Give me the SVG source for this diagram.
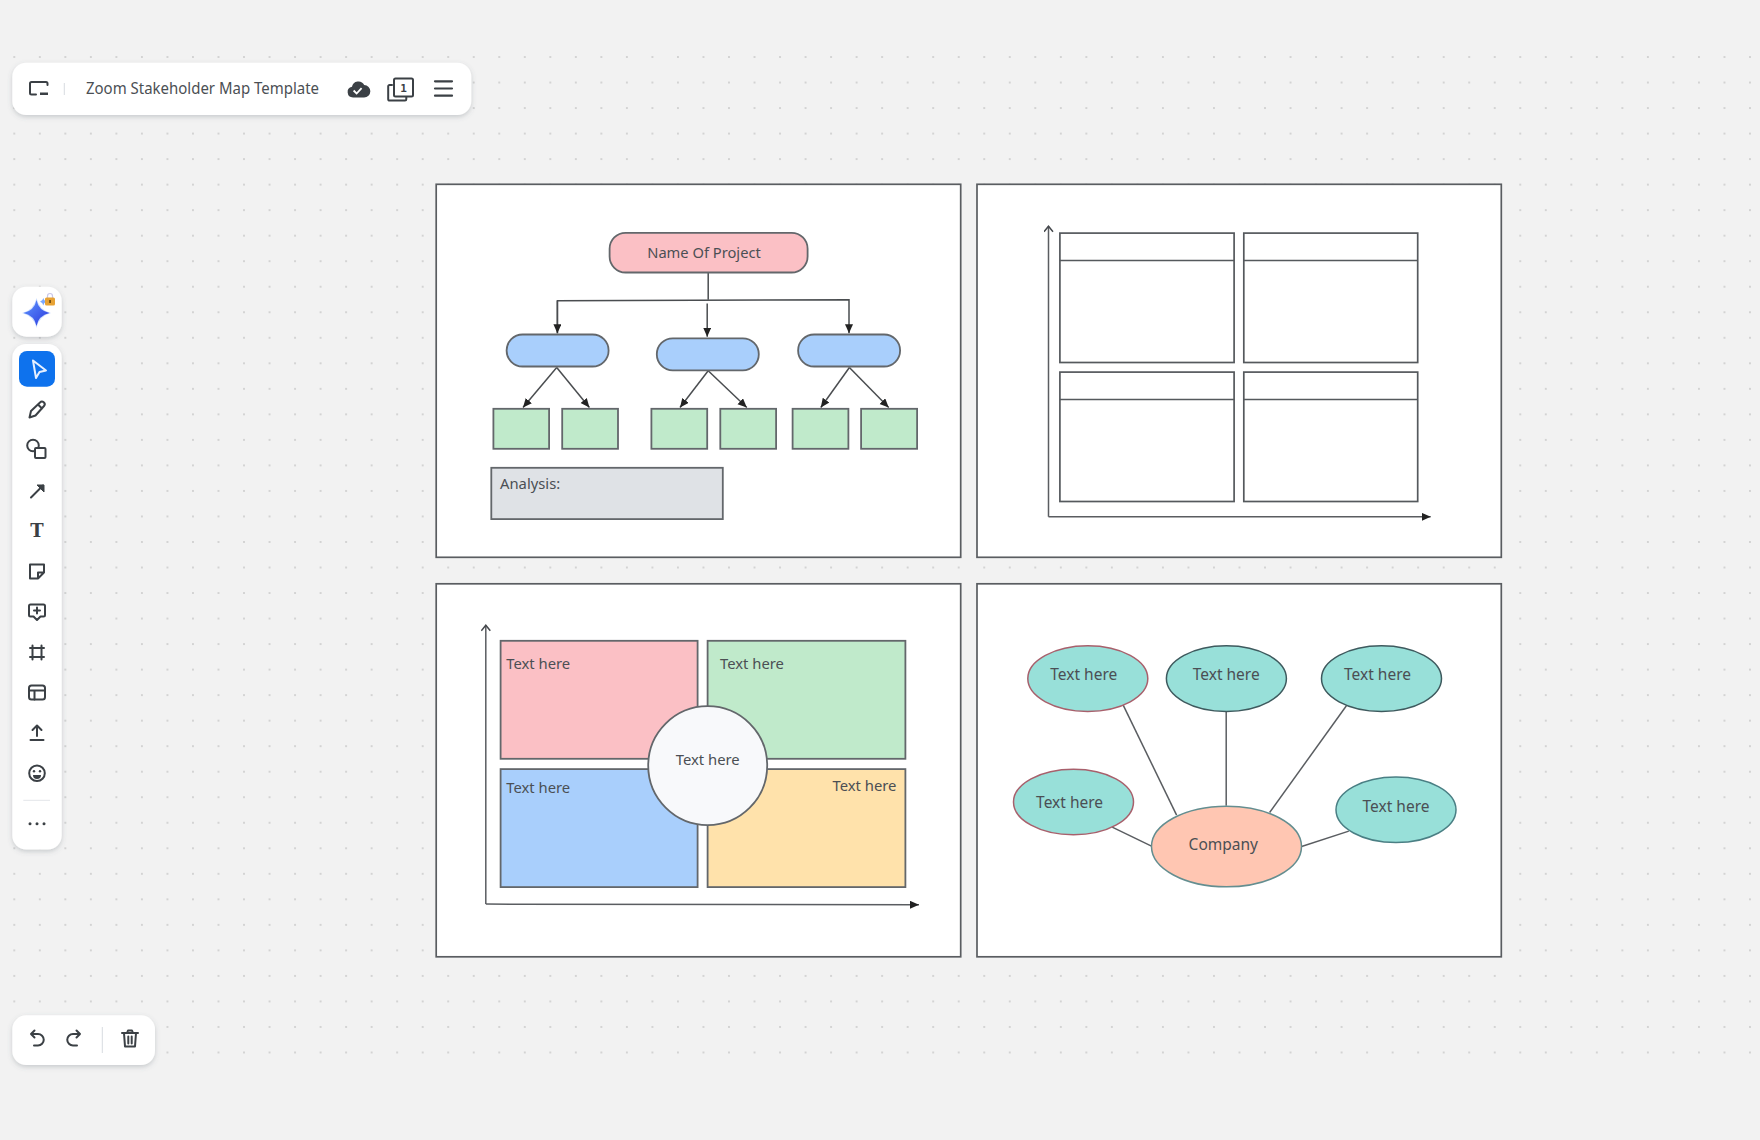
<svg xmlns="http://www.w3.org/2000/svg" width="1760" height="1140" viewBox="0 0 1760 1140">
<style>
.t{font-family:"Noto Sans","Open Sans","Liberation Sans",sans-serif;font-size:15px;fill:#4b4f54}
.tl{font-family:"Noto Sans","Open Sans","Liberation Sans",sans-serif;font-size:15.5px;fill:#4b4f54}
.panel{fill:#fff;stroke:#5a5d61;stroke-width:1.7}
.box{stroke:#63676b;stroke-width:1.8}
.wire{fill:none;stroke:#4a4d50;stroke-width:1.5}
.link{fill:none;stroke:#5a5d61;stroke-width:1.5}
.grid{fill:#fff;stroke:#55595d;stroke-width:1.7}
.bar{fill:#fff;filter:url(#sh)}
.ic{fill:none;stroke:#3b4045;stroke-width:2;stroke-linecap:round;stroke-linejoin:round}
.teal{fill:#98e0d9}
</style>
<defs>
<pattern id="dots" patternUnits="userSpaceOnUse" x="1.54" y="44.24" width="25.525" height="25.525"><circle cx="12.76" cy="12.76" r="1.1" fill="#cdcdcd"/></pattern>
<filter id="sh" x="-20%" y="-20%" width="140%" height="150%"><feDropShadow dx="0" dy="2" stdDeviation="2.5" flood-color="#5a6270" flood-opacity="0.28"/></filter>
<marker id="fa" markerUnits="userSpaceOnUse" markerWidth="12" markerHeight="10" refX="9" refY="4" orient="auto"><path d="M0 0L9 4L0 8Z" fill="#222"/></marker>
<marker id="oa" markerUnits="userSpaceOnUse" markerWidth="12" markerHeight="12" refX="6.5" refY="5" orient="auto"><path d="M1 0.5L6.5 5L1 9.5" fill="none" stroke="#45484c" stroke-width="1.5"/></marker>
<linearGradient id="star" x1="0" y1="0" x2="1" y2="1"><stop offset="0" stop-color="#5f98ff"/><stop offset="1" stop-color="#2a35dc"/></linearGradient>
</defs>
<rect width="1760" height="1140" fill="#f2f2f2"/>
<rect x="0" y="44" width="1760" height="1022" fill="url(#dots)"/>

<g id="top-bar">
<rect class="bar" x="12.300" y="62.700" width="459" height="52.300" rx="14"/>
<path class="ic" d="M47.500 85V83.500a1.500 1.500 0 0 0-1.500-1.500H31.500A1.500 1.500 0 0 0 30 83.500V93a1.500 1.500 0 0 0 1.500 1.500H36"/>
<path d="M40 92.500H48V95H40Z" fill="#3b4045"/>
<path d="M64.300 83V95" stroke="#d8dbe0" stroke-width="1"/>
<text x="86" y="94.300" class="t" style="font-size:15.600px" textLength="233" lengthAdjust="spacingAndGlyphs">Zoom Stakeholder Map Template</text>
<path d="M353 97.500a5.400 5.400 0 0 1-1-10.700 6.500 6.500 0 0 1 12.200-1.800 6.200 6.200 0 0 1-.2 12.500Z" fill="#3b4045"/>
<path d="M353.600 90.500l3 3 5-5.300" fill="none" stroke="#fff" stroke-width="1.800"/>
<rect x="394" y="78.500" width="19" height="18" rx="1.500" class="ic"/>
<path class="ic" d="M392 85H389.500a1.300 1.300 0 0 0-1.300 1.300v13a1.300 1.300 0 0 0 1.300 1.300H405a1.300 1.300 0 0 0 1.300-1.300V97"/>
<text x="403.500" y="92" text-anchor="middle" style="font-family:'DejaVu Sans Mono','Liberation Mono',monospace;font-size:11px;font-weight:700;fill:#3b4045">1</text>
<path class="ic" style="stroke-width:2.200" d="M435 81.300H452M435 88.500H452M435 95.700H452"/>
</g>

<g id="ai-button">
<rect class="bar" x="12.300" y="286.700" width="49.400" height="50" rx="14"/>
<path d="M36.500 298Q39 310 51 313Q39 316 36.500 328Q34 316 22 313Q34 310 36.500 298Z" fill="#a9c6ff" opacity="0.6"/>
<path d="M36.500 300Q38.500 310.500 49.500 313Q38.500 315.500 36.500 326Q34.500 315.500 23.500 313Q34.500 310.500 36.500 300Z" fill="url(#star)"/>
<path d="M43.300 298Q43.800 301 46.500 301.700Q43.800 302.500 43.300 305.500Q42.800 302.500 40 301.700Q42.800 301 43.300 298Z" fill="#7aa8ff"/>
<path d="M47.500 298V296a2.500 2.500 0 0 1 5 0v2" fill="none" stroke="#c9c6e8" stroke-width="1.200"/>
<rect x="45" y="297.500" width="10" height="8" rx="1.500" fill="#e7a234"/>
<rect x="49.300" y="300" width="1.500" height="3" fill="#5b3c0c"/>
</g>

<g id="tool-bar">
<rect class="bar" x="12.300" y="344" width="49.400" height="505.500" rx="14"/>
<rect x="19" y="351" width="36" height="35.700" rx="8" fill="#0e72ed"/>
<path d="M33 360.500L46 370.500L39.500 372L36 378Z" fill="none" stroke="#e6f0ff" stroke-width="2" stroke-linejoin="round"/>
<g transform="translate(0,1)">
<path class="ic" transform="translate(0,1)" d="M29.500 415.500L31 409L40 400.500a2.500 2.500 0 0 1 4 3.500L35.500 413.500ZM38 402.500L42 406.500"/>
<circle class="ic" cx="33" cy="444.500" r="5.800"/>
<rect x="35" y="447" width="10.500" height="10" rx="1" fill="#fff" stroke="#3b4045" stroke-width="2"/>
<path class="ic" d="M31 496.500L43 484.500"/>
<path d="M37 484H44V491Z" fill="#3b4045" stroke="#3b4045" stroke-width="1" stroke-linejoin="round"/>
<text x="37" y="535.500" text-anchor="middle" style="font-family:'DejaVu Serif','Liberation Serif',serif;font-size:18px;font-weight:700;fill:#3b4045">T</text>
<path class="ic" d="M30 563.500H44V571.500L38 577.500H30ZM44 571.500H38V577.500"/>
<path class="ic" d="M30.500 603.500H43.500a1.500 1.500 0 0 1 1.500 1.500V614a1.500 1.500 0 0 1-1.500 1.500H40.500L37 619L33.500 615.500H30.500a1.500 1.500 0 0 1-1.500-1.500V605a1.500 1.500 0 0 1 1.500-1.500ZM37 606.500V612.500M34 609.500H40"/>
<path class="ic" d="M32.500 644.500V658.500M41.500 644.500V658.500M30 647H44M30 656H44"/>
<rect class="ic" x="29" y="684.500" width="16" height="14" rx="2.500"/>
<path class="ic" d="M29 689.500H45M34.500 689.500V698.500"/>
<path class="ic" d="M30.500 739H43.500M37 735V725M32.500 729L37 724.500L41.500 729"/>
<circle class="ic" cx="37" cy="772.300" r="7.800"/>
<circle cx="34" cy="770.300" r="1.200" fill="#3b4045"/><circle cx="40" cy="770.300" r="1.200" fill="#3b4045"/>
<path d="M33 774H41A4 4 0 0 1 33 774Z" fill="#3b4045"/>
<path d="M23.300 799.300H50" stroke="#e3e5e9" stroke-width="1"/>
<circle cx="30" cy="822.700" r="1.500" fill="#3b4045"/><circle cx="37" cy="822.700" r="1.500" fill="#3b4045"/><circle cx="44" cy="822.700" r="1.500" fill="#3b4045"/>
</g>
</g>

<g id="history-bar">
<rect class="bar" x="12.300" y="1015.300" width="142.700" height="49.700" rx="14"/>
<g transform="translate(0,1)">
<path class="ic" d="M31 1033H38a4.500 4.500 0 0 1 0 11.500H34M34.500 1029.500L31 1033L34.500 1036.500"/>
<path class="ic" d="M80 1033H73a4.500 4.500 0 0 0 0 11.500H77M76.500 1029.500L80 1033L76.500 1036.500"/>
<path d="M102.300 1026V1052" stroke="#d8dbe0" stroke-width="1"/>
<path class="ic" d="M122 1032H138M127 1032L128 1029.500H132L133 1032M124 1032L125 1045.500H135L136 1032M128.300 1035.500V1042.500M131.700 1035.500V1042.500"/>
</g>
</g>

<g id="panels" transform="translate(0,0.800)">
<rect class="panel" x="436.200" y="183.500" width="524.500" height="373"/>
<rect class="panel" x="977" y="183.500" width="524.300" height="373"/>
<rect class="panel" x="436.200" y="583" width="524.500" height="373"/>
<rect class="panel" x="977" y="583" width="524.300" height="373"/>
</g>

<g id="connectors" transform="translate(0,0.800)">
<path class="wire" d="M708.200 271.700V299"/>
<path class="wire" d="M557.400 332.500V300L849 299V332.500" marker-end="url(#fa)"/>
<path class="wire" d="M557.400 300V332.500" marker-end="url(#fa)"/>
<path class="wire" d="M707.200 302.700V336" marker-end="url(#fa)"/>
<path class="wire" d="M556.700 366.700L523 406.700" marker-end="url(#fa)"/>
<path class="wire" d="M556.700 366.700L589.400 406.700" marker-end="url(#fa)"/>
<path class="wire" d="M708.200 370L680 406.700" marker-end="url(#fa)"/>
<path class="wire" d="M708.200 370L746.800 406.700" marker-end="url(#fa)"/>
<path class="wire" d="M849.400 366.700L820.800 406.700" marker-end="url(#fa)"/>
<path class="wire" d="M849.400 366.700L888.700 406.700" marker-end="url(#fa)"/>
<path class="link" d="M1048.500 516V225.500" marker-end="url(#oa)"/>
<path class="link" d="M1048.500 516H1430.700" marker-end="url(#fa)"/>
<path class="link" d="M485.800 903.300V624.500" marker-end="url(#oa)"/>
<path class="link" d="M485.800 903.300L919 904" marker-end="url(#fa)"/>
<path class="link" d="M1123.200 704.300L1176.600 814.300"/>
<path class="link" d="M1226.200 710.700V805"/>
<path class="link" d="M1346.400 705L1269.600 811.700"/>
<path class="link" d="M1112.200 826.300L1151.500 845.300"/>
<path class="link" d="M1301.600 845.700L1348.800 830.300"/>
</g>

<g id="hierarchy" transform="translate(0,0.800)">
<g id="project"><rect class="box" x="609.600" y="232" width="198" height="39.700" rx="16" fill="#fbc0c5"/><text class="tl" x="704" y="257.500" text-anchor="middle" style="font-size:14.700px">Name Of Project</text></g>
<g id="pill-1"><rect class="box" x="506.600" y="333.700" width="102" height="32" rx="16" fill="#a9cffc"/></g>
<g id="pill-2"><rect class="box" x="656.800" y="337.500" width="102" height="32" rx="16" fill="#a9cffc"/></g>
<g id="pill-3"><rect class="box" x="798.100" y="333.700" width="102" height="32" rx="16" fill="#a9cffc"/></g>
<g id="leaf-1"><rect class="box" x="493.400" y="408" width="55.700" height="40" fill="#c0eacb"/></g>
<g id="leaf-2"><rect class="box" x="562.200" y="408" width="55.800" height="40" fill="#c0eacb"/></g>
<g id="leaf-3"><rect class="box" x="651.400" y="408" width="55.800" height="40" fill="#c0eacb"/></g>
<g id="leaf-4"><rect class="box" x="720.300" y="408" width="55.800" height="40" fill="#c0eacb"/></g>
<g id="leaf-5"><rect class="box" x="792.600" y="408" width="55.800" height="40" fill="#c0eacb"/></g>
<g id="leaf-6"><rect class="box" x="861.100" y="408" width="56" height="40" fill="#c0eacb"/></g>
<g id="analysis"><rect class="box" x="491.300" y="467" width="231.500" height="51.300" fill="#dfe2e6"/><text class="t" x="500" y="488.500" style="font-size:14.800px">Analysis:</text></g>
</g>

<g id="matrix" transform="translate(0,0.800)">
<g id="m1"><rect class="grid" x="1059.900" y="232.300" width="174.200" height="129.400"/><path class="grid" d="M1059.900 259.700H1234.100"/></g>
<g id="m2"><rect class="grid" x="1243.800" y="232.300" width="173.900" height="129.400"/><path class="grid" d="M1243.800 259.700H1417.700"/></g>
<g id="m3"><rect class="grid" x="1059.900" y="371.300" width="174.200" height="129.400"/><path class="grid" d="M1059.900 398.700H1234.100"/></g>
<g id="m4"><rect class="grid" x="1243.800" y="371.300" width="173.900" height="129.400"/><path class="grid" d="M1243.800 398.700H1417.700"/></g>
</g>

<g id="quadrants" transform="translate(0,0.800)">
<g id="q1"><rect class="box" x="500.600" y="640" width="197" height="118" fill="#fbc0c5"/><text class="t" x="506.300" y="668.300" style="font-size:14.800px">Text here</text></g>
<g id="q2"><rect class="box" x="707.600" y="640" width="197.800" height="118" fill="#c0eacb"/><text class="t" x="720" y="668.300" style="font-size:14.800px">Text here</text></g>
<g id="q3"><rect class="box" x="500.600" y="768.300" width="197" height="118" fill="#a9cffc"/><text class="t" x="506.300" y="792.700" style="font-size:14.800px">Text here</text></g>
<g id="q4"><rect class="box" x="707.600" y="768.300" width="197.800" height="118" fill="#ffe2ab"/><text class="t" x="832.500" y="790.300" style="font-size:14.800px">Text here</text></g>
<g id="q-centre"><circle class="box" cx="707.700" cy="764.800" r="59.500" fill="#f8f9fb"/><text class="t" x="707.700" y="764.300" text-anchor="middle" style="font-size:14.800px">Text here</text></g>
</g>

<g id="stakeholders" transform="translate(0,0.800)">
<g id="s1"><ellipse class="teal" cx="1087.800" cy="677.800" rx="60" ry="32.800" stroke="#a8606c" stroke-width="1.500"/><text class="tl" x="1083.800" y="679.700" text-anchor="middle">Text here</text></g>
<g id="s2"><ellipse class="teal" cx="1226.400" cy="677.800" rx="60" ry="32.800" stroke="#3e5a5e" stroke-width="1.500"/><text class="tl" x="1226.200" y="679.700" text-anchor="middle">Text here</text></g>
<g id="s3"><ellipse class="teal" cx="1381.500" cy="677.800" rx="60" ry="32.800" stroke="#3e5a5e" stroke-width="1.500"/><text class="tl" x="1377.500" y="679.700" text-anchor="middle">Text here</text></g>
<g id="s4"><ellipse class="teal" cx="1073.500" cy="801.200" rx="60" ry="32.800" stroke="#a8606c" stroke-width="1.500"/><text class="tl" x="1069.600" y="807" text-anchor="middle">Text here</text></g>
<g id="s5"><ellipse class="teal" cx="1396" cy="809" rx="60" ry="32.800" stroke="#4a7f84" stroke-width="1.500"/><text class="tl" x="1396" y="811.300" text-anchor="middle">Text here</text></g>
<g id="company"><ellipse cx="1226.500" cy="845.700" rx="75" ry="40.300" fill="#ffc6b2" stroke="#648e90" stroke-width="1.500"/><text class="tl" x="1223.300" y="849.700" text-anchor="middle">Company</text></g>
</g>
</svg>
